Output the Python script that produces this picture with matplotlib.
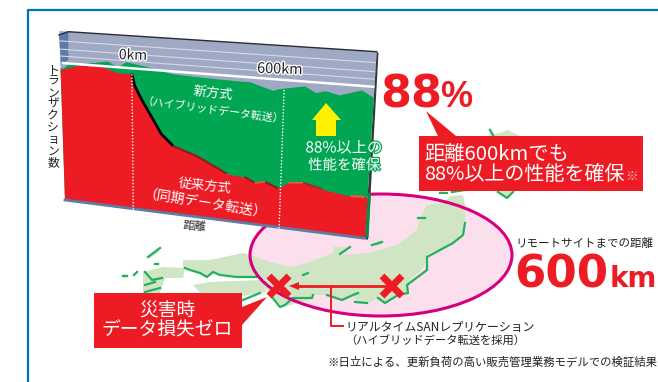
import numpy as np
import matplotlib
matplotlib.use('Agg')
import matplotlib.pyplot as plt
import matplotlib.patheffects as pe
from matplotlib.patches import Ellipse, Polygon

plt.rcParams['font.family'] = ['Noto Sans CJK JP', 'DejaVu Sans']

# throughput curves, distance in km, transactions in % of the 100 line
NEW_KM = [-270, -251, -205, -94, -54, -21, 51, 163, 307, 426, 465, 557, 583, 681, 727, 761, 820, 905, 951]
NEW_PCT = [96, 99, 100, 103.5, 100, 104, 102, 98, 97, 96.6, 96.7, 92, 93.6, 96.7, 92.8, 94.6, 92.6, 97, 93]
OLD_KM = [-281, -205, -120, -54, -1, 11, 37, 116, 163, 258, 380, 454, 495, 536, 589, 630, 690, 770, 885, 940]
OLD_PCT = [94.7, 99, 99.4, 95.6, 95.8, 87, 78, 54.6, 47.2, 41.9, 32, 31, 27.8, 29.2, 25.9, 30.4, 31.5, 28.6, 26.2, 26.7]
GRID_PCT = [105, 110, 116]
MARK_KM = [0, 600]
MARK_LABELS = ['0km', '600km']

# panel extents on the sheared chart face
KM_LEFT, KM_RIGHT = -281, 953.6
PCT_TOP = 123.2
BL, BR, TL, TR = (65, 200), (365, 238.3), (59.3, 31), (376.7, 51.7)

# rough map outlines
HONSHU = [(183, 260), (210, 260), (243, 253), (250, 255), (270, 262), (290, 267), (307, 263), (333, 253), (333, 247),
          (350, 247), (341, 255), (370, 253), (397, 245), (407, 238), (417, 230), (420, 218), (427, 205), (443, 203),
          (451, 196), (463, 195), (465, 205), (465, 227), (453, 245), (440, 250), (430, 252), (423, 268), (410, 280),
          (407, 293), (383, 302), (377, 298), (370, 303), (357, 302), (353, 295), (340, 300), (327, 295), (313, 295),
          (310, 300), (283, 307), (272, 297), (262, 284), (257, 277), (237, 277), (220, 275), (213, 272), (207, 277),
          (190, 270), (183, 268)]
SHIKOKU = [(193, 285), (210, 282), (260, 280), (267, 292), (243, 296), (200, 293)]
KYUSHU = [(143, 272), (163, 267), (185, 268), (183, 278), (165, 278), (160, 293), (143, 293)]
HOKKAIDO = [(490, 130), (493, 135), (508, 130), (520, 136), (528, 150), (520, 190), (513, 192), (507, 198), (498, 192),
            (470, 186), (440, 192), (440, 180), (470, 165), (488, 145)]
ISLANDS = [[(148, 257), (160, 248), (158, 253), (150, 258)], [(123, 274), (128, 275), (126, 278), (122, 277)],
           [(134, 276), (137, 271), (138, 273)], [(372, 245), (381, 239), (382, 244), (375, 247)]]
COASTS = [[(185, 268), (190, 270), (200, 273), (207, 277), (213, 272), (220, 275), (237, 277), (257, 277)],
          [(145, 272), (152, 280), (162, 278)], [(145, 285), (155, 282)], [(145, 292), (160, 288)],
          [(243, 300), (260, 293)], [(148, 257), (160, 248)], [(155, 264), (158, 264)],
          [(123, 276), (127, 276)], [(134, 275), (137, 272)], [(372, 245), (382, 242)],
          [(272, 297), (280, 307), (285, 305), (293, 298), (312, 298), (313, 295)],
          [(327, 295), (342, 300), (353, 295), (358, 293)], [(355, 302), (367, 303)],
          [(378, 298), (385, 303), (398, 295), (408, 293), (407, 285), (427, 270), (427, 257), (440, 250), (453, 243),
           (463, 235), (465, 223)],
          [(303, 275), (308, 273)], [(340, 254), (350, 247)], [(418, 218), (425, 218)], [(452, 192), (465, 190)],
          [(440, 193), (447, 193)], [(498, 192), (507, 198), (513, 192)], [(490, 130), (493, 135)]]
RED = '#ed1c24'
GREEN = '#00a651'
BLUE = '#5b7ba8'


def panel_xy(km, pct):
    # bilinear map from chart values onto the tilted face
    s = (np.asarray(km, float) - KM_LEFT) / (KM_RIGHT - KM_LEFT)
    u = np.asarray(pct, float) / PCT_TOP
    x = (1 - s) * ((1 - u) * BL[0] + u * TL[0]) + s * ((1 - u) * BR[0] + u * TR[0])
    y = (1 - s) * ((1 - u) * BL[1] + u * TL[1]) + s * ((1 - u) * BR[1] + u * TR[1])
    return x, y


def poly(pts, **kw):
    ax.add_patch(Polygon(pts, closed=True, **kw))


def face(km, pct):
    # closed outline down to the baseline
    km = [KM_LEFT] + list(km) + [KM_RIGHT]
    pct = [pct[0]] + list(pct) + [pct[-1]]
    x, y = panel_xy(km + km[::-1], pct + [0] * len(km))
    return np.column_stack([x, y])


def curve_part(lo, hi, color, lw, lift=0.0):
    km = np.array(OLD_KM, float)
    pct = np.array(OLD_PCT, float)
    keep = (km >= lo) & (km <= hi)
    x, y = panel_xy(km[keep], pct[keep] + lift)
    ax.plot(x, y, color=color, lw=lw, zorder=5, solid_capstyle='butt')


fig = plt.figure(figsize=(6.58, 3.82), dpi=100)
ax = fig.add_axes([0, 0, 1, 1])
ax.set_xlim(0, 658)
ax.set_ylim(382, 0)
ax.axis('off')

# outer frame
ax.plot([27.5, 27.5, 658], [382, 10, 10], color='#0071bc', lw=1.6, zorder=1)

# map
ax.add_patch(Ellipse((381, 255), 262, 122, fc='#fbdfec', ec='none', zorder=1))
for shape in [HONSHU, SHIKOKU, KYUSHU, HOKKAIDO] + ISLANDS:
    poly(shape, fc='#cfe5c3', ec='none', zorder=2)
for line in COASTS:
    ax.plot(*zip(*line), color='#22b060', lw=1.6, zorder=2)
ax.add_patch(Ellipse((381, 255), 262, 122, fc='none', ec='#d6007f', lw=2.2, zorder=2.5))

# back wall and side wall
wall_x, wall_y = panel_xy([KM_LEFT, KM_RIGHT, KM_RIGHT, KM_LEFT], [PCT_TOP, PCT_TOP, 80, 80])
poly(np.column_stack([wall_x, wall_y]), fc='#a0a9c4', ec='none', zorder=3)
poly([(59, 35), (68.3, 31.7), (68.3, 60), (61, 65)], fc=BLUE, ec='none', zorder=3)
for v in GRID_PCT:
    gx, gy = panel_xy([KM_LEFT, KM_RIGHT], [v, v])
    ax.plot(gx, gy, color='#d5dae6', lw=0.8, zorder=3)
ax.plot([59, 68.3, 376.7], [35, 31.7, 51.7], color='#2b2b33', lw=1.0, zorder=4)

# right edge
poly([(376.7, 51.7), (378.5, 53), (368, 240), (365, 238.3)], fc='#33363d', ec='none', zorder=4)
poly([(371, 193), (368.5, 238), (365.5, 236), (368, 193)], fc='#0b8a48', ec='none', zorder=6)

# curves
poly(face(NEW_KM, NEW_PCT), fc=GREEN, ec='none', zorder=4)
poly(face(OLD_KM, OLD_PCT), fc=RED, ec='none', zorder=4)
curve_part(-2, 165, '#120406', 2.0, 0.5)
curve_part(160, 382, '#8c1c20', 1.5, 0.4)
curve_part(450, 497, '#8c1c20', 1.5, 0.4)
curve_part(535, 590, '#8c1c20', 1.5, 0.4)
curve_part(630, 772, '#a92226', 1.2, 0.4)
curve_part(495, 536, '#f1593a', 1.2, 0.4)
curve_part(630, 690, '#f1593a', 1.2, 0.4)
curve_part(885, 940, '#f1593a', 1.5, 0.4)

# 100 line and bottom edge
lx, ly = panel_xy([KM_LEFT + 10, KM_RIGHT - 5], [100, 100])
ax.plot(lx, ly, color='white', lw=1.8, zorder=6)
bx, by = panel_xy([KM_LEFT, KM_RIGHT], [0, 0])
ax.plot(bx, by, color=BLUE, lw=2, zorder=6)

# distance markers
for km, label, top in zip(MARK_KM, MARK_LABELS, [95.8, 93.6]):
    mx, my = panel_xy([km, km], [-3, top])
    ax.plot(mx, my, color='white', lw=1.0, ls=(0, (1, 1.3)), zorder=6)
halo = [pe.withStroke(linewidth=2, foreground='white')]
ax.text(133, 55.5, MARK_LABELS[0], fontsize=10, color='#222222', ha='center', va='center', rotation=-2,
        path_effects=halo, zorder=7)
ax.text(280, 69.5, MARK_LABELS[1], fontsize=10.4, color='#222222', ha='center', va='center', rotation=-2,
        path_effects=halo, zorder=7)

# labels on the face
ax.text(213, 93, '新方式', fontsize=9.6, color='white', ha='center', va='center', rotation=-6, zorder=7)
ax.text(213, 111, '（ハイブリッドデータ転送）', fontsize=7.9, color='white', ha='center', va='center', rotation=-7.5, zorder=7)
ax.text(205, 186, '従来方式', fontsize=9.6, color='white', ha='center', va='center', rotation=-6, zorder=7)
ax.text(205, 205, '（同期データ転送）', fontsize=10, color='white', ha='center', va='center', rotation=-9, zorder=7)
ax.text(53, 116, '\n'.join('トランザクション数'), fontsize=8.5, color='#222222', ha='center', va='center',
        linespacing=0.86, zorder=7)
ax.text(195, 226, '距離', fontsize=8.4, color='#222222', ha='center', va='center', rotation=-4, zorder=7)

# yellow arrow
poly([(326, 103), (341, 120), (336, 120), (336, 136), (316, 136), (316, 120), (312, 120)], fc='#fff200', ec='none', zorder=7)
green_halo = [pe.withStroke(linewidth=1.8, foreground=GREEN)]
ax.text(344, 148, '88%以上の', fontsize=11, color='white', ha='center', va='center', path_effects=green_halo, zorder=7)
ax.text(344, 165.5, '性能を確保', fontsize=10.4, color='white', ha='center', va='center', path_effects=green_halo, zorder=7)

# headline numbers
ax.text(380, 107, '88', fontsize=32, fontweight='bold', family='DejaVu Sans', color=RED, ha='left', va='baseline', zorder=8)
ax.text(440, 107, '%', fontsize=26, fontweight='bold', family='Liberation Sans', color=RED, ha='left', va='baseline', zorder=8)
ax.text(514, 287, '600', fontsize=32.5, fontweight='bold', family='DejaVu Sans', color=RED, ha='left', va='baseline', zorder=8)
ax.text(610, 287, 'km', fontsize=20, fontweight='bold', family='DejaVu Sans', color=RED, ha='left', va='baseline', zorder=8)
ax.text(515, 243, 'リモートサイトまでの距離', fontsize=8.3, color='#222222', ha='left', va='center', zorder=8)

# callout boxes
poly([(426, 111), (456, 136), (643, 136), (643, 191), (419, 191), (419, 136), (438, 136)], fc=RED, ec='none', zorder=8)
ax.text(424, 155, '距離600kmでも', fontsize=14.6, color='white', ha='left', va='center', zorder=9)
ax.text(424, 174, '88%以上の性能を確保', fontsize=14.4, color='white', ha='left', va='center', zorder=9)
ax.text(632, 176, '※', fontsize=9, color='#f7c8c8', ha='center', va='center', zorder=9)

poly([(94, 293), (242, 293), (242, 307), (267, 297), (242, 325), (242, 348), (94, 348)], fc=RED, ec='none', zorder=8)
ax.text(167, 311, '災害時', fontsize=13.5, color='white', ha='center', va='center', zorder=9)
ax.text(167, 330, 'データ損失ゼロ', fontsize=13.5, color='white', ha='center', va='center', zorder=9)

# replication link between the two sites
ax.plot([392, 295], [286, 286], color=RED, lw=2.0, zorder=5)
poly([(289, 286), (299, 282), (299, 290)], fc=RED, ec='none', zorder=5)
ax.plot([331, 331, 343], [286, 326, 326], color=RED, lw=1.4, zorder=5)
for cx in [279, 392]:
    ax.plot([cx - 10, cx + 10], [276, 296], color=RED, lw=5, zorder=6, solid_capstyle='butt')
    ax.plot([cx - 10, cx + 10], [296, 276], color=RED, lw=5, zorder=6, solid_capstyle='butt')

ax.text(345, 327, 'リアルタイムSANレプリケーション', fontsize=8.6, color='#222222', ha='left', va='center', zorder=8)
ax.text(345, 341, '（ハイブリッドデータ転送を採用）', fontsize=8.1, color='#222222', ha='left', va='center', zorder=8)
ax.text(327, 362, '※日立による、更新負荷の高い販売管理業務モデルでの検証結果', fontsize=8.2, color='#222222', ha='left', va='center', zorder=8)

fig.savefig('out.png', dpi=100)
